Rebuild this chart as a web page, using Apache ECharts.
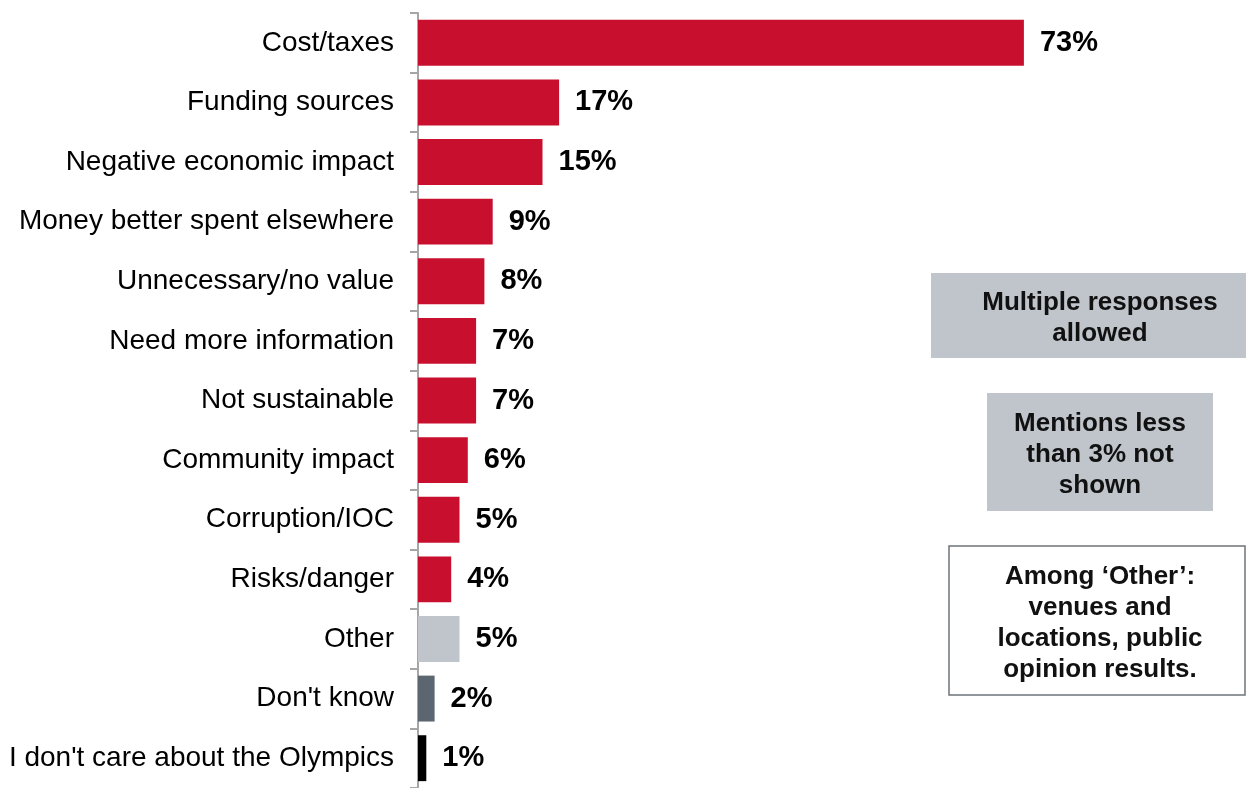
<!DOCTYPE html>
<html>
<head>
<meta charset="utf-8">
<script src="https://cdn.jsdelivr.net/npm/echarts@6/dist/echarts.min.js"></script>
<style>
  html, body { margin: 0; padding: 0; background: #fff; }
  #chart { width: 1246px; height: 788px; }
</style>
</head>
<body>
<div id="chart"></div>
<script>
// reasons, top to bottom
const reasons = [
    'Cost/taxes', 'Funding sources', 'Negative economic impact',
    'Money better spent elsewhere', 'Unnecessary/no value', 'Need more information',
    'Not sustainable', 'Community impact', 'Corruption/IOC', 'Risks/danger',
    'Other', "Don't know", "I don't care about the Olympics"
];
const shares = [73, 17, 15, 9, 8, 7, 7, 6, 5, 4, 5, 2, 1];
const barColours = [
    '#C8102E', '#C8102E', '#C8102E', '#C8102E', '#C8102E', '#C8102E',
    '#C8102E', '#C8102E', '#C8102E', '#C8102E', '#BFC5CB', '#5B6670', '#000000'
];

const FONT = '"Liberation Sans", Arial, sans-serif';

let myChart = echarts.init(document.getElementById('chart'));

//-- note boxes on the right
function noteBox(x, y, w, h, fill, stroke, lines, textX) {
    return {
        type: 'group',
        children: [
            {
                type: 'rect',
                shape: { x: x, y: y, width: w, height: h },
                style: { fill: fill, stroke: stroke, lineWidth: stroke ? 1.5 : 0 }
            },
            {
                type: 'text',
                x: textX,
                y: y + h / 2 + 3,
                style: {
                    text: lines.join('\n'),
                    fill: '#111',
                    font: 'bold 26px ' + FONT,
                    lineHeight: 31,
                    align: 'center',
                    verticalAlign: 'middle'
                }
            }
        ]
    };
}

let option = {
    animation: false,
    grid: { left: 418, top: 13, width: 664, height: 780 },
    xAxis: {
        type: 'value',
        min: 0,
        max: 80,
        show: false
    },
    yAxis: {
        type: 'category',
        inverse: true,
        data: reasons,
        axisLine: { lineStyle: { color: '#A6A6A6', width: 2 } },
        axisTick: { show: true, length: 8, lineStyle: { color: '#A6A6A6', width: 2 } },
        axisLabel: {
            margin: 24,
            fontSize: 28,
            fontFamily: FONT,
            color: '#000',
            padding: [8, 0, 0, 0]
        }
    },
    series: [
        {
            type: 'bar',
            data: shares.map(function(v, i) {
                return { value: v, itemStyle: { color: barColours[i] } };
            }),
            barCategoryGap: '23%',
            label: {
                show: true,
                position: 'right',
                distance: 16,
                formatter: '{c}%',
                fontSize: 29,
                fontWeight: 'bold',
                fontFamily: FONT,
                color: '#000',
                padding: [6, 0, 0, 0]
            }
        }
    ],
    graphic: [
        noteBox(931, 273, 340, 85, '#BFC5CB', null, ['Multiple responses', 'allowed'], 1100),
        noteBox(987, 393, 226, 118, '#BFC5CB', null, ['Mentions less', 'than 3% not', 'shown'], 1100),
        noteBox(949, 546, 296, 149, '#fff', '#6E7479', ["Among \u2018Other\u2019:", 'venues and', 'locations, public', 'opinion results.'], 1100)
    ]
};
myChart.setOption(option);
</script>
</body>
</html>
